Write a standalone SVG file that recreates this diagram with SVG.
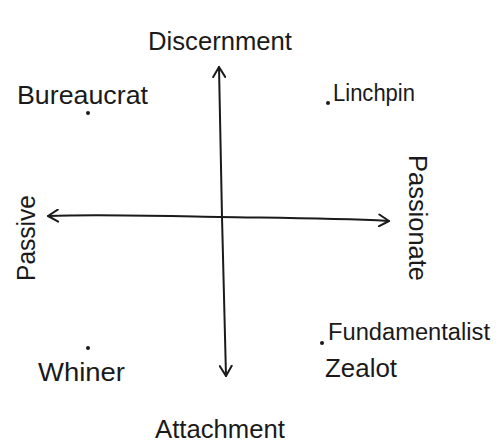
<svg xmlns="http://www.w3.org/2000/svg" width="500" height="448" viewBox="0 0 500 448">
<style>
text{font-family:"Liberation Sans",Arial,sans-serif;font-size:26px;fill:#1a1a1a}
text.sm{font-size:23px}
.ax{stroke:#1a1a1a;stroke-width:2;fill:none;stroke-linecap:round}
.dot{fill:#1a1a1a}
</style>
<defs>
<marker id="ah" viewBox="0 0 12 14" refX="11" refY="7" markerWidth="12" markerHeight="14" markerUnits="userSpaceOnUse" orient="auto">
<path d="M1,1 L11,7 L1,13" fill="none" stroke="#1a1a1a" stroke-width="2" stroke-linecap="round" stroke-linejoin="round"/>
</marker>
</defs>
<rect width="500" height="448" fill="#fff"/>
<g id="connectors">
<path class="ax" d="M222,217 L219,67" marker-end="url(#ah)"/>
<path class="ax" d="M222,217 L226,376" marker-end="url(#ah)"/>
<path class="ax" d="M219,217 C160,216 100,214 48,216" marker-end="url(#ah)"/>
<path class="ax" d="M219,217 C280,218 330,218 389,221" marker-end="url(#ah)"/>
</g>
<g id="discernment"><text x="148" y="50" textLength="144" lengthAdjust="spacingAndGlyphs">Discernment</text></g>
<g id="attachment"><text x="155" y="438" textLength="130" lengthAdjust="spacingAndGlyphs">Attachment</text></g>
<g id="passive"><text transform="translate(35,281) rotate(-90)" textLength="86" lengthAdjust="spacingAndGlyphs">Passive</text></g>
<g id="passionate"><text transform="translate(409,155) rotate(90)" textLength="126" lengthAdjust="spacingAndGlyphs">Passionate</text></g>
<g id="bureaucrat"><text x="17" y="104" textLength="131" lengthAdjust="spacingAndGlyphs">Bureaucrat</text><circle class="dot" cx="88" cy="113" r="2"/></g>
<g id="linchpin"><text class="sm" x="333" y="101" textLength="82" lengthAdjust="spacingAndGlyphs">Linchpin</text><circle class="dot" cx="328" cy="103" r="2"/></g>
<g id="whiner"><text x="38" y="381" textLength="87" lengthAdjust="spacingAndGlyphs">Whiner</text><circle class="dot" cx="88" cy="348" r="2"/></g>
<g id="fundamentalist"><text class="sm" x="328" y="340" textLength="162" lengthAdjust="spacingAndGlyphs">Fundamentalist</text><circle class="dot" cx="322" cy="343" r="2"/></g>
<g id="zealot"><text x="325" y="377" textLength="72" lengthAdjust="spacingAndGlyphs">Zealot</text></g>
</svg>
